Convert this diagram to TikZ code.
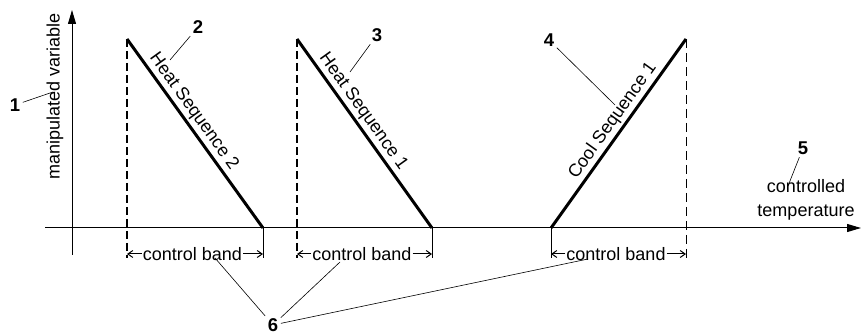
\documentclass[tikz,border=0pt]{standalone}
\usepackage{fontspec}
\setmainfont{Liberation Sans}
\usetikzlibrary{arrows.meta}
\begin{document}
\begin{tikzpicture}[x=1pt,y=-1pt,
  txt/.style={font=\fontsize{18}{24}\selectfont, inner sep=1pt},
  num/.style={font=\fontsize{18.5}{21}\selectfont\bfseries, inner sep=2.5pt},
  axisline/.style={line width=1pt, -{Triangle[length=14pt,width=8pt]}},
  ramp/.style={line width=3pt},
  dashA/.style={line width=2.2pt, dash pattern=on 8pt off 4pt},
  dashB/.style={line width=1pt, dash pattern=on 9pt off 5pt},
  tickline/.style={line width=1pt},
  dimline/.style={line width=1pt, -{Straight Barb[length=5pt,width=7pt]}},
  leader/.style={line width=0.6pt}]
\useasboundingbox (0,0) rectangle (861,336);
% axes
\coordinate (yb) at (72,255); \coordinate (yt) at (72,10);
\coordinate (xl) at (45,228); \coordinate (xr) at (861,228);
\draw[axisline] (yb) -- (yt);
\draw[axisline] (xl) -- (xr);
\node[txt, rotate=90] (ylab) at (55,96) {manipulated variable};
\node[txt, align=center] (xlab) at (806,200) {controlled\\temperature};
% ramps
\coordinate (a0) at (127,39); \coordinate (a1) at (263,228);
\coordinate (b0) at (297,39); \coordinate (b1) at (432,228);
\coordinate (c0) at (551,228); \coordinate (c1) at (686,39);
\coordinate (a0d) at (127,258); \coordinate (a1d) at (263,258);
\coordinate (b0d) at (297,258); \coordinate (b1d) at (432,258);
\coordinate (c0d) at (551,258); \coordinate (c1d) at (686,258);
\draw[dashA] (a0) -- (a0d);
\draw[dashA] (b0) -- (b0d);
\draw[dashB] (c1) -- (c1d);
\draw[tickline] (a1) -- (a1d);
\draw[tickline] (b1) -- (b1d);
\draw[tickline] (c0) -- (c0d);
\draw[ramp] (a0) -- node[txt, sloped, above=1pt, pos=0.42] (ta) {Heat Sequence 2} (a1);
\draw[ramp] (b0) -- node[txt, sloped, above=1pt, pos=0.42] (tb) {Heat Sequence 1} (b1);
\draw[ramp] (c0) -- node[txt, sloped, above=1pt, pos=0.53] (tc) {Cool Sequence 1} (c1);
% control bands
\node[txt] (cb1) at (192.5,254) {control band};
\node[txt] (cb2) at (362,254) {control band};
\node[txt] (cb3) at (616,254) {control band};
\draw[dimline] (cb1.west) -- (cb1.west -| a0);
\draw[dimline] (cb1.east) -- (cb1.east -| a1);
\draw[dimline] (cb2.west) -- (cb2.west -| b0);
\draw[dimline] (cb2.east) -- (cb2.east -| b1);
\draw[dimline] (cb3.west) -- (cb3.west -| c0);
\draw[dimline] (cb3.east) -- (cb3.east -| c1);
% numbered labels
\node[num] (n1) at (15,105) {1};
\node[num] (n2) at (198,27) {2};
\node[num] (n3) at (377,35) {3};
\node[num] (n4) at (549,40) {4};
\node[num] (n5) at (803,148) {5};
\node[num] (n6) at (273,325) {6};
\coordinate (l1) at (53,92);
\coordinate (l2) at (170,60);
\coordinate (l3) at (350,72);
\coordinate (l4) at (615,105);
\coordinate (l5) at (788,186);
\coordinate (l6a) at (215,258);
\coordinate (l6b) at (340,262);
\coordinate (l6c) at (588,259);
\draw[leader] (n1) -- (l1);
\draw[leader] (n2) -- (l2);
\draw[leader] (n3) -- (l3);
\draw[leader] (n4) -- (l4);
\draw[leader] (n5) -- (l5);
\draw[leader] (n6) -- (l6a);
\draw[leader] (n6) -- (l6b);
\draw[leader] (n6) -- (l6c);
\end{tikzpicture}
\end{document}
